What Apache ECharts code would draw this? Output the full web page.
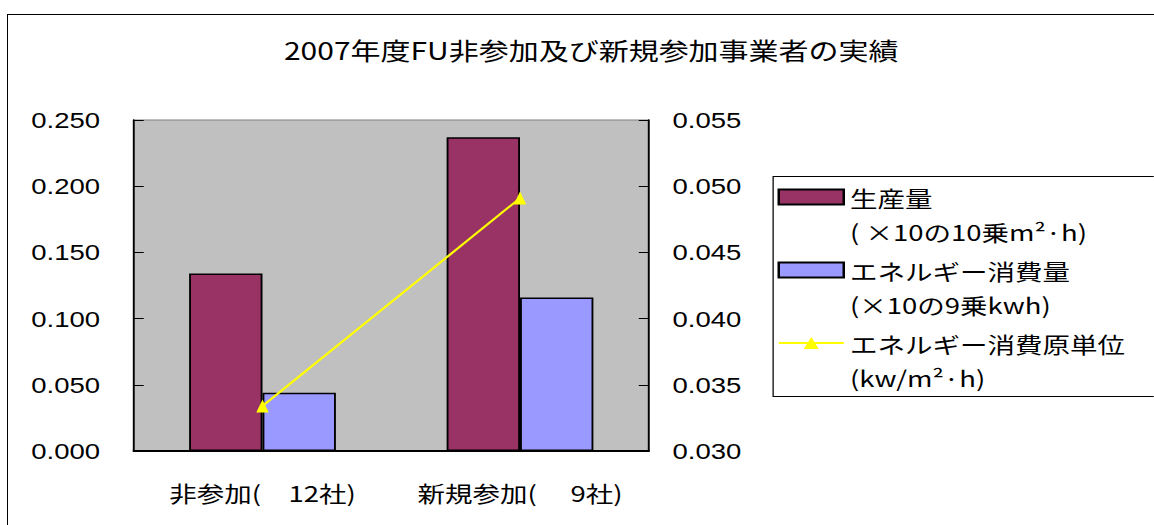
<!DOCTYPE html>
<html>
<head>
<meta charset="utf-8">
<title>2007年度FU非参加及び新規参加事業者の実績</title>
<script src="https://cdn.jsdelivr.net/npm/echarts@6/dist/echarts.min.js"></script>
<style>
  html, body { margin: 0; padding: 0; background: #fff; overflow: hidden; }
  #wrap { position: relative; width: 1154px; height: 525px; overflow: hidden; }
  #frame { position: absolute; left: 7px; top: 14px; width: 1400px; height: 800px; border: 1px solid #000; }
  /* the original chart is stretched sideways, so draw narrow and widen it */
  #main { position: absolute; left: 0; top: 0; width: 923px; height: 525px; transform: scaleX(1.25); transform-origin: 0 0; }
</style>
</head>
<body>
<div id="wrap">
  <div id="frame"></div>
  <div id="main"></div>
</div>
<script type="text/javascript">
var categories = ['非参加(　12社)', '新規参加(　 9社)'];
var production = [0.134, 0.237];      // 生産量
var energy = [0.044, 0.116];          // エネルギー消費量
var intensity = [0.0334, 0.0491];     // エネルギー消費原単位 (right axis)
var seriesNames = ['生産量', 'エネルギー消費量', 'エネルギー消費原単位'];
var seriesUnits = ['( ×10の10乗m²·h)', '(×10の9乗kwh)', '(kw/m²·h)'];

var jp = "'Noto Sans CJK JP', sans-serif";
var num = "'Liberation Sans', Arial, sans-serif";

var myChart = echarts.init(document.getElementById('main'), null, { renderer: 'svg' });

var option = {
  animation: false,
  title: {
    text: '2007年度FU非参加及び新規参加事業者の実績',
    left: 473,
    textAlign: 'center',
    top: 37,
    padding: 0,
    textStyle: { fontFamily: jp, fontSize: 24, fontWeight: 'normal', color: '#000' }
  },
  legend: {
    orient: 'vertical',
    left: 622,
    top: 146,
    padding: 0,
    itemWidth: 52,
    itemHeight: 15,
    itemGap: -29,
    selectedMode: false,
    data: [
      { name: seriesNames[0], icon: 'rect' },
      { name: seriesNames[1], icon: 'rect' },
      { name: seriesNames[2] }
    ],
    // blank first line keeps the name level with the icon, unit goes below
    formatter: function (name) {
      return ' \n' + name + '\n' + seriesUnits[seriesNames.indexOf(name)];
    },
    textStyle: { fontFamily: jp, fontSize: 22, lineHeight: 34, color: '#000' }
  },
  graphic: [
    {
      type: 'rect', silent: true,
      shape: { x: 618.5, y: 176.5, width: 2000, height: 220 },
      style: { fill: 'none', stroke: '#000', lineWidth: 1 }
    }
  ],
  grid: {
    left: 107, right: 404, top: 120, bottom: 74,
    show: true, backgroundColor: '#c0c0c0', borderColor: '#808080', borderWidth: 1
  },
  xAxis: {
    type: 'category',
    data: categories,
    axisLine: { lineStyle: { color: '#000', width: 2 } },
    axisTick: { inside: true, length: 10, lineStyle: { color: '#000' } },
    axisLabel: { interval: 0, margin: 30, fontFamily: jp, fontSize: 22, color: '#000' }
  },
  yAxis: [
    {
      type: 'value', min: 0, max: 0.25, interval: 0.05,
      axisLine: { show: true, lineStyle: { color: '#000', width: 1.5 } },
      axisTick: { show: true, inside: true, length: 8, lineStyle: { color: '#000' } },
      splitLine: { show: false },
      axisLabel: {
        margin: 27, fontFamily: num, fontSize: 22, color: '#000',
        formatter: function (v) { return v.toFixed(3); }
      }
    },
    {
      type: 'value', min: 0.03, max: 0.055, interval: 0.005,
      axisLine: { show: true, lineStyle: { color: '#000', width: 1.5 } },
      axisTick: { show: true, inside: true, length: 8, lineStyle: { color: '#000' } },
      splitLine: { show: false },
      axisLabel: {
        margin: 19, fontFamily: num, fontSize: 22, color: '#000',
        formatter: function (v) { return v.toFixed(3); }
      }
    }
  ],
  series: [
    {
      name: seriesNames[0],
      type: 'bar',
      data: production,
      barGap: 0,
      barCategoryGap: '43%',
      itemStyle: { color: '#993366', borderColor: '#000', borderWidth: 1.5 }
    },
    {
      name: seriesNames[1],
      type: 'bar',
      data: energy,
      itemStyle: { color: '#9999ff', borderColor: '#000', borderWidth: 1.5 }
    },
    {
      name: seriesNames[2],
      type: 'line',
      yAxisIndex: 1,
      data: intensity,
      symbol: 'triangle',
      symbolSize: [10, 13],
      z: 5,
      itemStyle: { color: '#ffff00' },
      lineStyle: { color: '#ffff00', width: 2 }
    }
  ]
};

myChart.setOption(option);
</script>
</body>
</html>
